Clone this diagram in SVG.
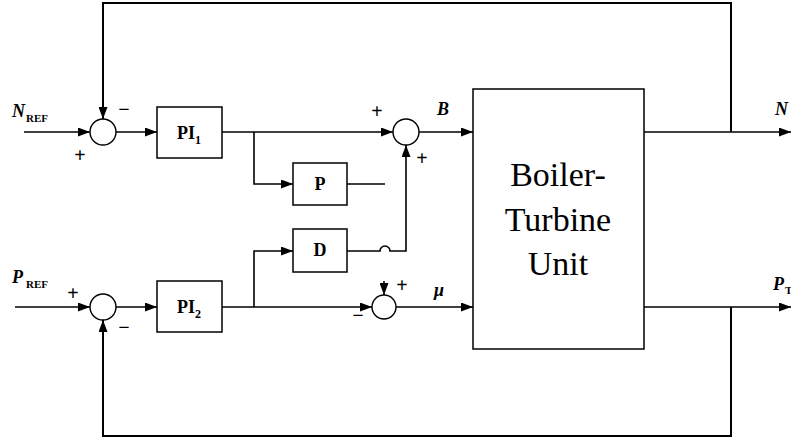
<svg xmlns="http://www.w3.org/2000/svg" width="791" height="438" viewBox="0 0 791 438">
<style>
.ln{fill:none;stroke:#000;stroke-width:1.6}
.fb{fill:none;stroke:#000;stroke-width:2}
.bx{fill:#fff;stroke:#000;stroke-width:1.5}
.sum{fill:#fff;stroke:#000;stroke-width:1.4}
.blk{font-family:"Liberation Serif","Times New Roman",serif;font-weight:bold;font-size:18px;text-anchor:middle}
.sg{font-family:"Liberation Serif","Times New Roman",serif;font-weight:bold;font-size:20px;text-anchor:middle}
.var{font-family:"Liberation Serif","Times New Roman",serif;font-weight:bold;font-style:italic;font-size:18px}
.sub{font-family:"Liberation Serif","Times New Roman",serif;font-weight:bold;font-size:11px}
.big{font-family:"Liberation Serif","Times New Roman",serif;font-size:34px;text-anchor:middle}
</style>
<defs>
<marker id="ah" markerUnits="userSpaceOnUse" markerWidth="13" markerHeight="9" refX="12" refY="4.5" orient="auto">
<path d="M0,0 L12,4.5 L0,9 z" fill="#000"/>
</marker>
</defs>
<rect width="791" height="438" fill="#fff"/>
<g id="connectors">
<path class="fb" d="M731,132 L731,3 L103,3 L103,119" marker-end="url(#ah)"/>
<path class="ln" d="M24,132 L90,132" marker-end="url(#ah)"/>
<path class="ln" d="M116,132 L157,132" marker-end="url(#ah)"/>
<path class="ln" d="M222,132 L393,132" marker-end="url(#ah)"/>
<path class="ln" d="M254,132 L254,184 L293,184" marker-end="url(#ah)"/>
<path class="ln" d="M347,184 L385,184"/>
<path class="ln" d="M419,132 L473,132" marker-end="url(#ah)"/>
<path class="ln" d="M347,251 L380,251 A5,5 0 0 1 390,251 L406,251 L406,145" marker-end="url(#ah)"/>
<path class="ln" d="M15,307 L90,307" marker-end="url(#ah)"/>
<path class="ln" d="M116,307 L157,307" marker-end="url(#ah)"/>
<path class="ln" d="M222,307 L372,307" marker-end="url(#ah)"/>
<path class="ln" d="M254,307 L254,251 L293,251" marker-end="url(#ah)"/>
<path class="ln" d="M384,281 L384,295" marker-end="url(#ah)"/>
<path class="ln" d="M396,307 L473,307" marker-end="url(#ah)"/>
<path class="ln" d="M644,132 L791,132" marker-end="url(#ah)"/>
<path class="ln" d="M644,307 L791,307" marker-end="url(#ah)"/>
<path class="fb" d="M731,307 L731,436 L103,436 L103,320" marker-end="url(#ah)"/>
</g>
<g id="sum1">
<circle class="sum" cx="103" cy="132" r="13"/>
<text class="sg" x="124" y="116">−</text>
<text class="sg" x="80" y="162">+</text>
</g>
<g id="sum2">
<circle class="sum" cx="406" cy="132" r="13"/>
<text class="sg" x="377" y="118">+</text>
<text class="sg" x="422" y="165">+</text>
</g>
<g id="sum3">
<circle class="sum" cx="384" cy="307" r="12"/>
<text class="sg" x="402" y="292">+</text>
<text class="sg" x="358" y="322">−</text>
</g>
<g id="sum4">
<circle class="sum" cx="103" cy="307" r="13"/>
<text class="sg" x="73" y="300">+</text>
<text class="sg" x="124" y="334">−</text>
</g>
<g id="pi1">
<rect class="bx" x="157" y="107" width="65" height="51"/>
<text class="blk" x="189" y="139">PI<tspan font-size="12px" dy="5">1</tspan></text>
</g>
<g id="pi2">
<rect class="bx" x="157" y="281" width="65" height="51"/>
<text class="blk" x="189" y="313">PI<tspan font-size="12px" dy="5">2</tspan></text>
</g>
<g id="p">
<rect class="bx" x="293" y="163" width="54" height="42"/>
<text class="blk" x="320" y="190" font-size="16px">P</text>
</g>
<g id="d">
<rect class="bx" x="293" y="229" width="54" height="43"/>
<text class="blk" x="320" y="256" font-size="16px">D</text>
</g>
<g id="boiler">
<rect class="bx" x="473" y="89" width="171" height="260"/>
<text class="big" x="558" y="186">Boiler-</text>
<text class="big" x="558" y="231">Turbine</text>
<text class="big" x="558" y="275">Unit</text>
</g>
<g id="labels">
<text class="var" x="12" y="117">N</text><text class="sub" x="26" y="122">REF</text>
<text class="var" x="12" y="283">P</text><text class="sub" x="26" y="288">REF</text>
<text class="var" x="437" y="115">B</text>
<text class="var" x="434" y="296">μ</text>
<text class="var" x="775" y="115">N</text>
<text class="var" x="773" y="290">P</text><text class="sub" x="785" y="294" font-size="12px">T</text>
</g>
</svg>
